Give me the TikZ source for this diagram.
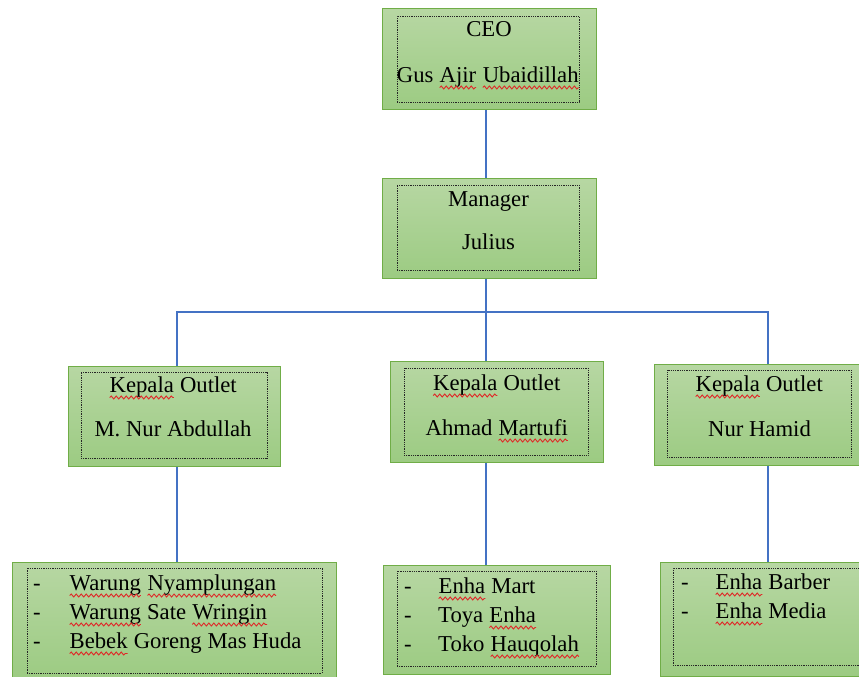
\documentclass[tikz,border=0pt]{standalone}
\usepackage{fontspec}
\setmainfont{Liberation Serif}
\usetikzlibrary{decorations.pathmorphing}
\definecolor{gtop}{HTML}{B7D7A3}
\definecolor{gbot}{HTML}{9CCB82}
\definecolor{gborder}{HTML}{70AD47}
\definecolor{conn}{HTML}{4472C4}
\definecolor{spellred}{HTML}{E02828}
\newcommand{\spl}[1]{\tikz[baseline=(sw.base)]{\node[inner sep=0pt,outer sep=0pt] (sw) {#1}; \draw[spellred, line width=0.9pt, decorate, decoration={snake, amplitude=1.5pt, segment length=5pt}] ([yshift=-5.5pt]sw.base west) -- ([yshift=-5.5pt]sw.base east);}}
\tikzset{
  outerbox/.style={rectangle, draw=gborder, line width=1pt, top color=gtop, bottom color=gbot, inner sep=0pt},
  innerbox/.style={rectangle, draw=black!85, densely dotted, line width=0.8pt, inner sep=0pt},
  lbl/.style={anchor=base, inner sep=0pt, font=\fontsize{22.7}{27}\selectfont},
  lbw/.style={anchor=base west, inner sep=0pt, font=\fontsize{22.7}{27}\selectfont},
  link/.style={draw=conn, line width=1.1pt}
}
\begin{document}
\begin{tikzpicture}[x=1pt,y=-1pt]
\useasboundingbox (0,0) rectangle (859,677);
\clip (0,0) rectangle (859,677);
% boxes
\node[outerbox, minimum width=214pt, minimum height=100pt] (ceo) at (489,59) {};
\node[innerbox, minimum width=182pt, minimum height=86pt] (ceoi) at (488,59) {};
\node[outerbox, minimum width=214pt, minimum height=100pt] (mgr) at (489,228) {};
\node[innerbox, minimum width=182pt, minimum height=85pt] (mgri) at (488,227.5) {};
\node[outerbox, minimum width=212pt, minimum height=100pt] (k1) at (174,416) {};
\node[innerbox, minimum width=186pt, minimum height=86pt] (k1i) at (174,415) {};
\node[outerbox, minimum width=213pt, minimum height=101pt] (k2) at (496.5,411.5) {};
\node[innerbox, minimum width=184pt, minimum height=87pt] (k2i) at (496,411.5) {};
\node[outerbox, minimum width=214pt, minimum height=101pt] (k3) at (761,414.5) {};
\node[innerbox, minimum width=184pt, minimum height=87pt] (k3i) at (759,413.5) {};
\node[outerbox, minimum width=324pt, minimum height=118pt] (l1) at (174,621) {};
\node[innerbox, minimum width=295pt, minimum height=105pt] (l1i) at (174.5,620.5) {};
\node[outerbox, minimum width=227pt, minimum height=109pt] (l2) at (496.5,619.5) {};
\node[innerbox, minimum width=199pt, minimum height=95pt] (l2i) at (496.5,618.5) {};
\node[outerbox, minimum width=214pt, minimum height=114pt] (l3) at (767,619) {};
\node[innerbox, minimum width=190pt, minimum height=97pt] (l3i) at (768,616.5) {};
% connectors
\coordinate (bar) at (486,312);
\coordinate (j1) at (177,312);
\coordinate (j3) at (768,312);
\draw[link] (ceo.south -| bar) -- (mgr.north -| bar);
\draw[link] (mgr.south -| bar) -- (bar);
\draw[link] (j1 |- k1.north) -- (j1) -- (j3) -- (j3 |- k3.north);
\draw[link] (bar) -- (bar |- k2.north);
\draw[link] (j1 |- k1.south) -- (j1 |- l1.north);
\draw[link] (bar |- k2.south) -- (bar |- l2.north);
\draw[link] (j3 |- k3.south) -- (j3 |- l3.north);
% texts
\node[lbl] (t-ceo1) at (489,37) {CEO};
\node[lbl] (t-ceo2) at (488,82) {Gus \spl{Ajir} \spl{Ubaidillah}};
\node[lbl] (t-mgr1) at (488.5,206) {Manager};
\node[lbl] (t-mgr2) at (488.5,249) {Julius};
\node[lbl] (t-k11) at (173,392) {\spl{Kepala} Outlet};
\node[lbl] (t-k12) at (173,436) {M. Nur Abdullah};
\node[lbl] (t-k21) at (496.5,390) {\spl{Kepala} Outlet};
\node[lbl] (t-k22) at (497,435) {Ahmad \spl{Martufi}};
\node[lbl] (t-k31) at (759,391) {\spl{Kepala} Outlet};
\node[lbl] (t-k32) at (759.5,436) {Nur Hamid};
% lists
\node[lbw] (d11) at (33,590) {-};
\node[lbw] (t-l11) at (69,590) {\spl{Warung} \spl{Nyamplungan}};
\node[lbw] (d12) at (33,619) {-};
\node[lbw] (t-l12) at (69,619) {\spl{Warung} Sate \spl{Wringin}};
\node[lbw] (d13) at (33,648) {-};
\node[lbw] (t-l13) at (69,648) {\spl{Bebek} Goreng Mas Huda};
\node[lbw] (d21) at (404,593) {-};
\node[lbw] (t-l21) at (438,593) {\spl{Enha} Mart};
\node[lbw] (d22) at (404,622) {-};
\node[lbw] (t-l22) at (438,622) {Toya \spl{Enha}};
\node[lbw] (d23) at (404,651) {-};
\node[lbw] (t-l23) at (438,651) {Toko \spl{Hauqolah}};
\node[lbw] (d31) at (681,589) {-};
\node[lbw] (t-l31) at (715,589) {\spl{Enha} Barber};
\node[lbw] (d32) at (681,618) {-};
\node[lbw] (t-l32) at (715,618) {\spl{Enha} Media};
\end{tikzpicture}
\end{document}
